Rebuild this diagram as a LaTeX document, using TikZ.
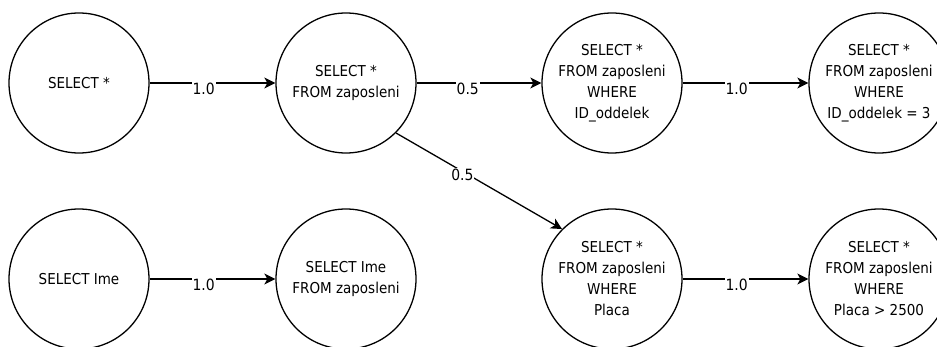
\documentclass[tikz,border=0pt]{standalone}
\usepackage{fontspec}
\setmainfont{DejaVu Sans Condensed}
\usetikzlibrary{arrows.meta}
\begin{document}
\begin{tikzpicture}[x=1pt,y=-1pt,
  state/.style={circle,draw,line width=1.3pt,minimum size=140pt,inner sep=0pt,align=center,
    font=\fontsize{15}{21}\selectfont},
  edge/.style={line width=1.3pt,-{Stealth[length=11pt,width=11pt,inset=3pt]}},
  wlabel/.style={fill=white,inner sep=1pt,font=\fontsize{15.5}{18}\selectfont,yshift=-6pt}]
\useasboundingbox (0,0) rectangle (937,347);
\clip (0,0) rectangle (937,347);
\node[state] (a) at (79,83) {SELECT *};
\node[state] (b) at (346,83) {SELECT *\\FROM zaposleni};
\node[state] (c) at (612,83) {SELECT *\\FROM zaposleni\\WHERE\\ID\_oddelek};
\node[state] (d) at (879,83) {SELECT *\\FROM zaposleni\\WHERE\\ID\_oddelek = 3};
\node[state] (e) at (79,279) {SELECT Ime};
\node[state] (f) at (346,279) {SELECT Ime\\FROM zaposleni};
\node[state] (g) at (612,279) {SELECT *\\FROM zaposleni\\WHERE\\Placa};
\node[state] (h) at (879,279) {SELECT *\\FROM zaposleni\\WHERE\\Placa > 2500};
\draw[edge] (a) -- node[wlabel,pos=0.43]{1.0} (b);
\draw[edge] (b) -- node[wlabel,pos=0.41]{0.5} (c);
\draw[edge] (c) -- node[wlabel,pos=0.43]{1.0} (d);
\draw[edge] (e) -- node[wlabel,pos=0.43]{1.0} (f);
\draw[edge] (g) -- node[wlabel,pos=0.43]{1.0} (h);
\draw[edge] (b.-45) -- node[wlabel,pos=0.4,yshift=3pt]{0.5} (g.135);
\end{tikzpicture}
\end{document}
